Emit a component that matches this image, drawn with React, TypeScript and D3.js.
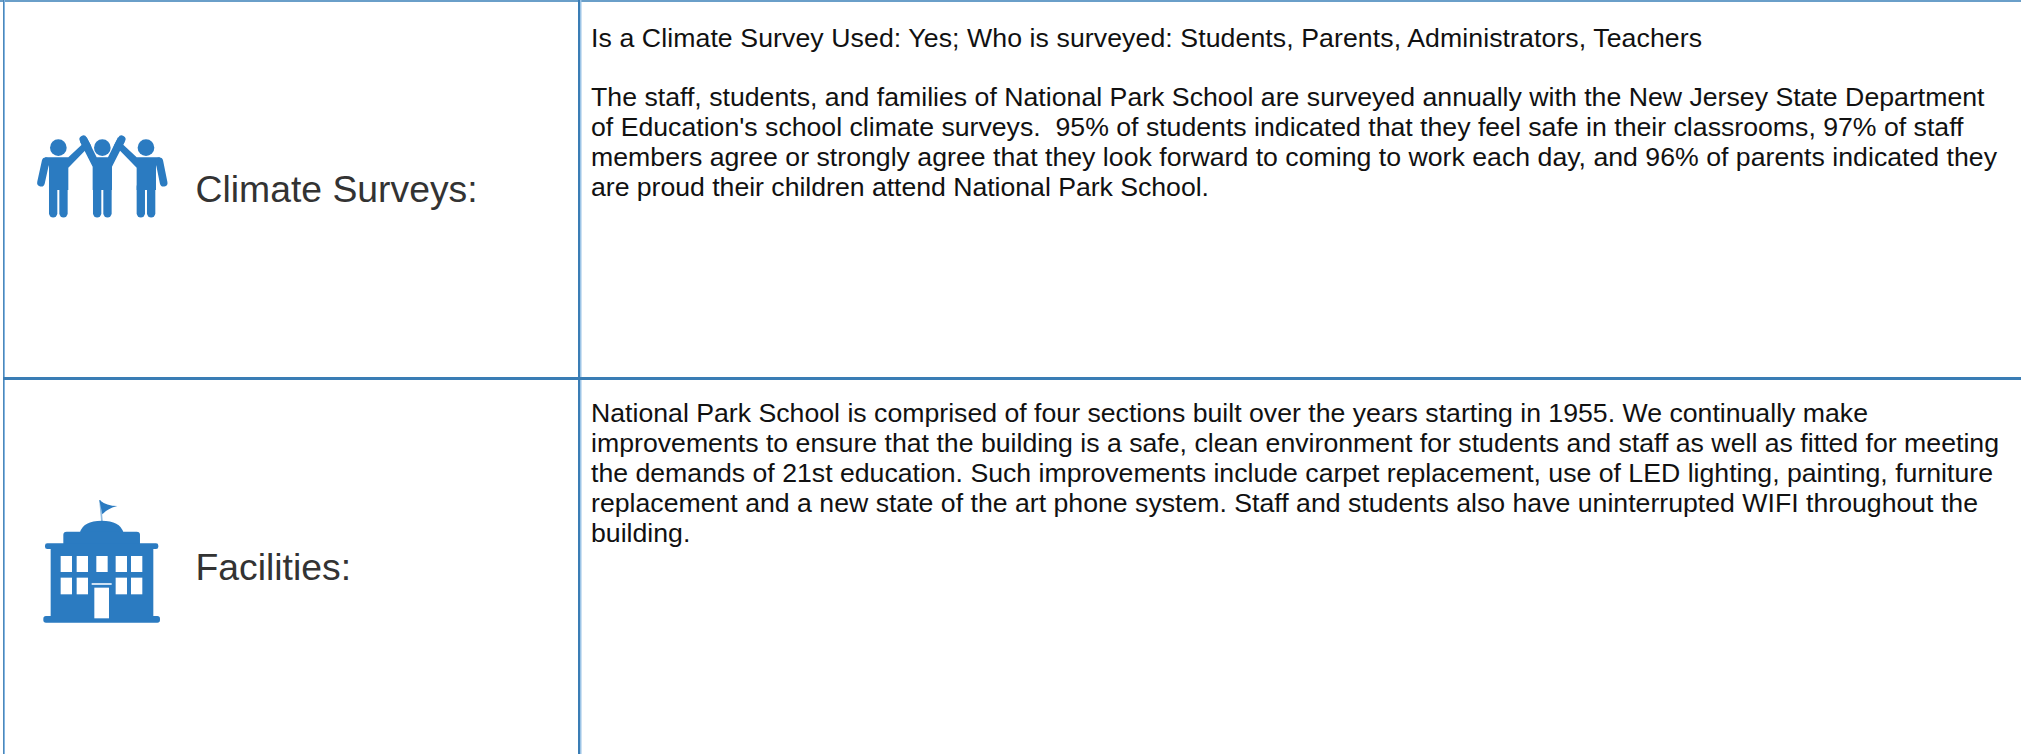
import React, { useEffect, useRef } from "react";
import * as d3 from "d3";

const width = 2021;
const height = 754;
const blue = "#2b7bc1";

const rowLabels = ["Climate Surveys:", "Facilities:"];
const rowLabelY = [202, 580];

const climateLines = [
  "Is a Climate Survey Used: Yes; Who is surveyed: Students, Parents, Administrators, Teachers",
  "",
  "The staff, students, and families of National Park School are surveyed annually with the New Jersey State Department",
  "of Education's school climate surveys.  95% of students indicated that they feel safe in their classrooms, 97% of staff",
  "members agree or strongly agree that they look forward to coming to work each day, and 96% of parents indicated they",
  "are proud their children attend National Park School.",
];
const facilityLines = [
  "National Park School is comprised of four sections built over the years starting in 1955. We continually make",
  "improvements to ensure that the building is a safe, clean environment for students and staff as well as fitted for meeting",
  "the demands of 21st education. Such improvements include carpet replacement, use of LED lighting, painting, furniture",
  "replacement and a new state of the art phone system. Staff and students also have uninterrupted WIFI throughout the",
  "building.",
];
// the reference text is hinted, so each line runs a little longer or shorter than here
const climateWidths = [1111, 0, 1393.5, 1372.5, 1406, 618];
const facilityWidths = [1277, 1408, 1402, 1387, 0];
const bodyFirstBaseline = [46.5, 422];

const peopleHeads = [175, 307, 438];
const topWindows = [182, 230, 289, 347, 393];
const lowerWindows = [182, 230, 347, 393];

function drawPeople(g: any) {
  // drawn in 3x crop units, scaled down by the transform on the group
  peopleHeads.forEach((cx) => {
    g.append("circle").attr("cx", cx).attr("cy", 143).attr("r", 25).attr("fill", blue);
    [-15.5, 15.5].forEach((dx) => {
      g.append("line")
        .attr("x1", cx + dx).attr("y1", 260)
        .attr("x2", cx + dx).attr("y2", 340)
        .attr("stroke", blue).attr("stroke-width", 25).attr("stroke-linecap", "round");
    });
  });
  // torsos
  g.append("path").attr("d", "M135 172H205L250 130L262 145L205 203V270H147V200Z").attr("fill", blue);
  g.append("path").attr("d", "M480 172H410L365 130L353 145L410 203V270H468V200Z").attr("fill", blue);
  g.append("path").attr("d", "M240 125L260 112L290 172H324L354 112L374 125L336 200V270H278V200Z").attr("fill", blue);
  const limbs = [
    [137, 184, 123, 248],
    [478, 184, 491, 248],
    [250, 118, 262, 140],
    [365, 118, 353, 140],
  ];
  limbs.forEach(([x1, y1, x2, y2]) => {
    g.append("line")
      .attr("x1", x1).attr("y1", y1).attr("x2", x2).attr("y2", y2)
      .attr("stroke", blue).attr("stroke-width", 23).attr("stroke-linecap", "round");
  });
}

function drawBuilding(g: any) {
  g.append("path").attr("d", "M300 60L306 125").attr("stroke", "#8fbbe0").attr("stroke-width", 5);
  g.append("path").attr("d", "M298 60Q320 78 352 78Q328 82 307 103Z").attr("fill", blue);
  g.append("path").attr("d", "M240 157Q250 122 305 122Q360 122 370 157Z").attr("fill", blue);
  g.append("rect").attr("x", 190).attr("y", 155).attr("width", 230).attr("height", 45).attr("rx", 10).attr("fill", blue);
  g.append("rect").attr("x", 135).attr("y", 190).attr("width", 340).attr("height", 17).attr("rx", 7).attr("fill", blue);
  g.append("rect").attr("x", 152).attr("y", 205).attr("width", 308).attr("height", 210).attr("fill", blue);
  g.append("rect").attr("x", 130).attr("y", 408).attr("width", 350).attr("height", 20).attr("rx", 8).attr("fill", blue);
  topWindows.forEach((x) => {
    g.append("rect").attr("x", x).attr("y", 228).attr("width", 34).attr("height", 48).attr("fill", "#fff");
  });
  lowerWindows.forEach((x) => {
    g.append("rect").attr("x", x).attr("y", 293).attr("width", 34).attr("height", 50).attr("fill", "#fff");
  });
  g.append("rect").attr("x", 275).attr("y", 309).attr("width", 60).attr("height", 6).attr("fill", "#cfe2f3");
  g.append("rect").attr("x", 283).attr("y", 323).attr("width", 44).attr("height", 92).attr("fill", "#fff");
}

export default function App() {
  const ref = useRef<SVGSVGElement>(null);

  useEffect(() => {
    const svg = d3.select(ref.current);
    svg.selectAll("*").remove();

    // table borders: the vertical ones have a lighter edge in the reference
    const rules = [
      { x1: 0, y1: 1, x2: width, y2: 1, color: "#6a9fc9", w: 2 },
      { x1: 3.5, y1: 0, x2: 3.5, y2: height, color: "#4d87b8", w: 1 },
      { x1: 4.5, y1: 0, x2: 4.5, y2: height, color: "#82b5e2", w: 1 },
      { x1: 579, y1: 0, x2: 579, y2: height, color: "#3a7db5", w: 2 },
      { x1: 580.75, y1: 0, x2: 580.75, y2: height, color: "#9cc4e6", w: 1.5 },
      { x1: 3, y1: 378.5, x2: width, y2: 378.5, color: "#3a7db5", w: 3 },
    ];
    svg.selectAll("line.rule")
      .data(rules)
      .enter()
      .append("line")
      .attr("class", "rule")
      .attr("x1", (d) => d.x1)
      .attr("y1", (d) => d.y1)
      .attr("x2", (d) => d.x2)
      .attr("y2", (d) => d.y2)
      .attr("stroke", (d) => d.color)
      .attr("stroke-width", (d) => d.w);

    svg.selectAll("text.label")
      .data(rowLabels)
      .enter()
      .append("text")
      .attr("class", "label")
      .attr("x", 195.5)
      .attr("y", (_d, i) => rowLabelY[i])
      .attr("font-size", 37.33)
      .attr("fill", "#333")
      .text((d) => d);

    [climateLines, facilityLines].forEach((block, b) => {
      const widths = b === 0 ? climateWidths : facilityWidths;
      svg.append("g")
        .selectAll("text")
        .data(block)
        .enter()
        .append("text")
        .attr("x", 591)
        .attr("y", (_d, i) => bodyFirstBaseline[b] + i * 29.9)
        .attr("font-size", 26.67)
        .attr("fill", "#111")
        .attr("textLength", (_d, i) => widths[i] || null)
        .attr("lengthAdjust", "spacing")
        .style("white-space", "pre")
        .text((d) => d);
    });

    drawPeople(svg.append("g").attr("transform", "translate(0,100) scale(0.3333)"));
    drawBuilding(svg.append("g").attr("transform", "translate(0,480) scale(0.3333)"));
  }, []);

  return (
    <svg
      ref={ref}
      width={width}
      height={height}
      style={{ position: "absolute", left: 0, top: 0, background: "#fff", fontFamily: "'Liberation Sans', Arial, sans-serif" }}
    />
  );
}
